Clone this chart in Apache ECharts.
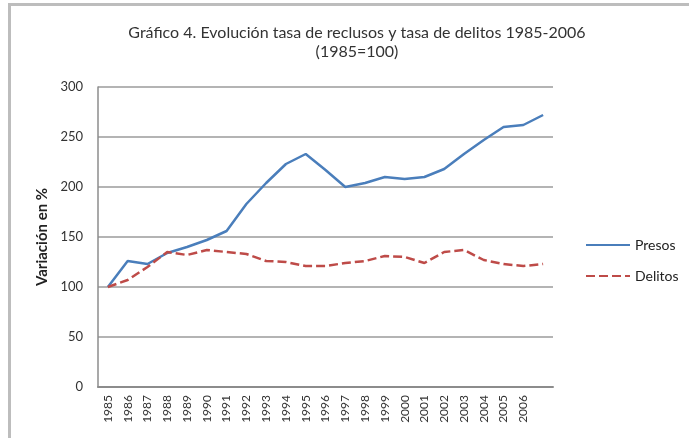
<!DOCTYPE html>
<html>
<head>
<meta charset="utf-8">
<script src="https://cdn.jsdelivr.net/npm/echarts@6/dist/echarts.min.js"></script>
<style>
  html, body { margin: 0; padding: 0; background: #fff; }
  #chart { width: 689px; height: 438px; }
</style>
</head>
<body>
<div id="chart"></div>
<script>
var years = ['1985', '1986', '1987', '1988', '1989', '1990', '1991', '1992', '1993', '1994', '1995',
	'1996', '1997', '1998', '1999', '2000', '2001', '2002', '2003', '2004', '2005', '2006', ''];
var presos = [100, 126, 123, 134, 140, 147, 156, 183, 204, 223, 233,
	217, 200, 204, 210, 208, 210, 218, 233, 247, 260, 262, 272];
var delitos = [100, 107, 120, 135, 132, 137, 135, 133, 126, 125, 121,
	121, 124, 126, 131, 130, 124, 135, 137, 127, 123, 121, 123];
var yTicks = [0, 50, 100, 150, 200, 250, 300];

var font = 'Lato';
var myChart = echarts.init(document.getElementById('chart'));
var option = {
	animation: false,
	backgroundColor: '#fff',
	textStyle: { fontFamily: font },
	title: {
		text: 'Gráfico 4. Evolución tasa de reclusos y tasa de delitos 1985-2006\n(1985=100)',
		left: 352,
		top: 18,
		textAlign: 'center',
		textStyle: {
			fontFamily: font,
			fontSize: 16,
			fontWeight: 'normal',
			color: '#333',
			lineHeight: 19
		}
	},
	legend: {
		orient: 'vertical',
		left: 580,
		top: 233,
		itemWidth: 44,
		itemHeight: 10,
		itemGap: 17,
		itemStyle: { opacity: 0 },
		textStyle: { fontFamily: font, fontSize: 14, color: '#222' },
		data: ['Presos', 'Delitos']
	},
	grid: {
		left: 98,
		right: 136,
		top: 87,
		bottom: 51
	},
	xAxis: {
		type: 'category',
		data: years,
		boundaryGap: true,
		axisLine: { lineStyle: { color: '#8c8c8c', width: 2 } },
		axisTick: { show: false },
		axisLabel: {
			interval: 0,
			rotate: 90,
			margin: 8,
			fontSize: 12,
			color: '#333',
			fontFamily: font
		}
	},
	yAxis: {
		type: 'value',
		min: yTicks[0],
		max: yTicks[yTicks.length - 1],
		interval: 50,
		name: 'Variación en %',
		nameLocation: 'middle',
		nameGap: 47,
		nameTextStyle: { fontFamily: font, fontSize: 15, fontWeight: 'bold', color: '#222' },
		axisLine: { show: true, lineStyle: { color: '#8c8c8c', width: 1.5 } },
		axisTick: { show: false },
		axisLabel: { margin: 15, fontSize: 13, color: '#333', fontFamily: font },
		splitLine: { lineStyle: { color: '#b4b4b4', width: 2 } }
	},
	series: [{
		name: 'Presos',
		type: 'line',
		data: presos,
		symbol: 'none',
		lineStyle: { color: '#4a7ebb', width: 2.5 },
		itemStyle: { color: '#4a7ebb' }
	}, {
		name: 'Delitos',
		type: 'line',
		data: delitos,
		symbol: 'none',
		lineStyle: { color: '#be4b48', width: 2.5, type: [9, 4] },
		itemStyle: { color: '#be4b48' }
	}],
	graphic: [
		// chart frame (top and left edge only, as in the picture)
		{ type: 'rect', shape: { x: 8, y: 3, width: 681, height: 3 }, style: { fill: '#bdbdbd' } },
		{ type: 'rect', shape: { x: 8, y: 3, width: 3, height: 435 }, style: { fill: '#bdbdbd' } }
	]
};
myChart.setOption(option);
</script>
</body>
</html>
